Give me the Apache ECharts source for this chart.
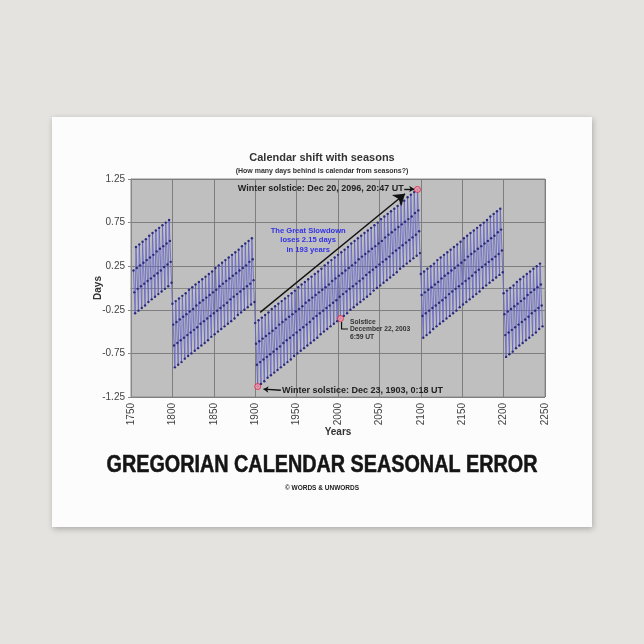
<!DOCTYPE html>
<html><head><meta charset="utf-8">
<script src="https://cdn.jsdelivr.net/npm/echarts@6/dist/echarts.min.js"></script>
<style>html,body{margin:0;padding:0;background:#e5e3e0;}#c{width:644px;height:644px;}</style>
</head><body><div id="c"></div>
<script>
// Days behind (calendar vs seasons), one value per year, segments start at given years
const seg1753 = [
0.20,-0.05,-0.29,
0.47,0.23,-0.01,-0.26,
0.50,0.26,0.02,-0.23,
0.53,0.29,0.05,-0.20,
0.56,0.32,0.08,-0.16,
0.60,0.35,0.11,-0.13,
0.63,0.38,0.14,-0.10,
0.66,0.42,0.17,-0.07,
0.69,0.45,0.20,-0.04,
0.72,0.48,0.24,-0.01,
0.75,0.51,0.27,0.02,
0.78,0.54,0.30,0.06];
const seg1800 = [
-0.18,-0.42,-0.66,-0.91,
-0.15,-0.39,-0.63,-0.88,
-0.12,-0.36,-0.60,-0.85,
-0.09,-0.33,-0.57,-0.81,
-0.06,-0.30,-0.54,-0.78,
-0.02,-0.27,-0.51,-0.75,
0.01,-0.24,-0.48,-0.72,
0.04,-0.20,-0.45,-0.69,
0.07,-0.17,-0.41,-0.66,
0.10,-0.14,-0.38,-0.63,
0.13,-0.11,-0.35,-0.60,
0.16,-0.08,-0.32,-0.56,
0.19,-0.05,-0.29,-0.53,
0.23,-0.02,-0.26,-0.50,
0.26,0.02,-0.23,-0.47,
0.29,0.05,-0.20,-0.44,
0.32,0.08,-0.17,-0.41,
0.35,0.11,-0.13,-0.38,
0.38,0.14,-0.10,-0.35,
0.41,0.17,-0.07,-0.31,
0.44,0.20,-0.04,-0.28,
0.48,0.23,-0.01,-0.25,
0.51,0.26,0.02,-0.22,
0.54,0.30,0.05,-0.19,
0.57,0.33,0.09,-0.16];
const seg1900 = [
-0.40,-0.64,-0.88,-1.13,
-0.37,-0.61,-0.85,-1.10,
-0.34,-0.58,-0.82,-1.07,
-0.31,-0.55,-0.79,-1.03,
-0.28,-0.52,-0.76,-1.00,
-0.24,-0.49,-0.73,-0.97,
-0.21,-0.46,-0.70,-0.94,
-0.18,-0.42,-0.67,-0.91,
-0.15,-0.39,-0.63,-0.88,
-0.12,-0.36,-0.60,-0.85,
-0.09,-0.33,-0.57,-0.82,
-0.06,-0.30,-0.54,-0.78,
-0.03,-0.27,-0.51,-0.75,
0.01,-0.24,-0.48,-0.72,
0.04,-0.21,-0.45,-0.69,
0.07,-0.17,-0.42,-0.66,
0.10,-0.14,-0.39,-0.63,
0.13,-0.11,-0.35,-0.60,
0.16,-0.08,-0.32,-0.57,
0.19,-0.05,-0.29,-0.53,
0.22,-0.02,-0.26,-0.50,
0.26,0.01,-0.23,-0.47,
0.29,0.04,-0.20,-0.44,
0.32,0.08,-0.17,-0.41,
0.35,0.11,-0.14,-0.38,
0.38,0.14,-0.10,-0.35,
0.41,0.17,-0.07,-0.32,
0.44,0.20,-0.04,-0.29,
0.47,0.23,-0.01,-0.25,
0.51,0.26,0.02,-0.22,
0.54,0.29,0.05,-0.19,
0.57,0.33,0.08,-0.16,
0.60,0.36,0.11,-0.13,
0.63,0.39,0.15,-0.10,
0.66,0.42,0.18,-0.07,
0.69,0.45,0.21,-0.03,
0.72,0.48,0.24,0.00,
0.75,0.51,0.27,0.03,
0.79,0.54,0.30,0.06,
0.82,0.58,0.33,0.09,
0.85,0.61,0.36,0.12,
0.88,0.64,0.40,0.15,
0.91,0.67,0.43,0.18,
0.94,0.70,0.46,0.22,
0.97,0.73,0.49,0.25,
1.00,0.76,0.52,0.28,
1.04,0.79,0.55,0.31,
1.07,0.82,0.58,0.34,
1.10,0.86,0.61,0.37,
1.13,0.89,0.65,0.40];
const seg2100 = [
0.16,-0.08,-0.32,-0.57,
0.19,-0.05,-0.29,-0.54,
0.22,-0.02,-0.26,-0.51,
0.25,0.01,-0.23,-0.47,
0.28,0.04,-0.20,-0.44,
0.32,0.07,-0.17,-0.41,
0.35,0.11,-0.14,-0.38,
0.38,0.14,-0.11,-0.35,
0.41,0.17,-0.07,-0.32,
0.44,0.20,-0.04,-0.29,
0.47,0.23,-0.01,-0.26,
0.50,0.26,0.02,-0.22,
0.53,0.29,0.05,-0.19,
0.57,0.32,0.08,-0.16,
0.60,0.36,0.11,-0.13,
0.63,0.39,0.14,-0.10,
0.66,0.42,0.18,-0.07,
0.69,0.45,0.21,-0.04,
0.72,0.48,0.24,0.00,
0.75,0.51,0.27,0.03,
0.78,0.54,0.30,0.06,
0.82,0.57,0.33,0.09,
0.85,0.60,0.36,0.12,
0.88,0.64,0.39,0.15,
0.91,0.67,0.43,0.18];
const seg2200 = [
-0.06,-0.30,-0.54,-0.79,
-0.03,-0.27,-0.51,-0.76,
0.00,-0.24,-0.48,-0.73,
0.03,-0.21,-0.45,-0.69,
0.07,-0.18,-0.42,-0.66,
0.10,-0.15,-0.39,-0.63,
0.13,-0.12,-0.36,-0.60,
0.16,-0.08,-0.33,-0.57,
0.19,-0.05,-0.29,-0.54,
0.22,-0.02,-0.26,-0.51,
0.25,0.01,-0.23,-0.47,
0.28,0.04,-0.20,-0.44];
const segmentStarts = [1753, 1800, 1900, 2100, 2200];
const segments = [seg1753, seg1800, seg1900, seg2100, seg2200];

// highlighted solstices
const markerYears = [1903, 2003, 2096];
const markerValues = [-1.13, -0.35, 1.13];

const xTicks = {min: 1750, max: 2250, step: 50};
const yTicks = {min: -1.25, max: 1.25, step: 0.5};

const lineData = [];
segments.forEach((arr, s) => arr.forEach((v, i) => lineData.push([segmentStarts[s] + i, v])));
const markerData = markerYears.map((y, i) => [y, markerValues[i]]);

const FF = '"Liberation Sans", Arial, sans-serif';
const chart = echarts.init(document.getElementById('c'), null, {renderer: 'canvas', width: 644, height: 644});

const option = {
  animation: false,
  backgroundColor: '#e5e3e0',
  title: [
    {text: 'Calendar shift with seasons', left: 'center', top: 147,
     textStyle: {fontFamily: FF, fontSize: 11, fontWeight: 'bold', color: '#333'}},
    {text: '(How many days behind is calendar from seasons?)', left: 'center', top: 163,
     textStyle: {fontFamily: FF, fontSize: 7, fontWeight: 'bold', color: '#333'}}
  ],
  grid: {left: 131, right: 99, top: 179, bottom: 247, show: true,
         backgroundColor: '#bfbfbf', borderColor: '#8c8c8c', borderWidth: 1},
  xAxis: {
    type: 'value', min: xTicks.min, max: xTicks.max, interval: xTicks.step,
    name: 'Years', nameLocation: 'middle', nameGap: 30, nameMoveOverlap: false,
    nameTextStyle: {fontFamily: FF, fontWeight: 'bold', fontSize: 10, color: '#333'},
    axisLine: {show: true, lineStyle: {color: '#888'}},
    axisTick: {show: true, length: 3, lineStyle: {color: '#888'}},
    axisLabel: {rotate: 90, fontFamily: FF, fontSize: 10, color: '#444', margin: 6, formatter: v => String(v)},
    splitLine: {show: true, lineStyle: {color: '#7e7e7e', width: 1}}
  },
  yAxis: {
    type: 'value', min: yTicks.min, max: yTicks.max, interval: yTicks.step,
    name: 'Days', nameLocation: 'middle', nameGap: 28, nameMoveOverlap: false,
    nameTextStyle: {fontFamily: FF, fontWeight: 'bold', fontSize: 10, color: '#333'},
    axisLine: {show: true, lineStyle: {color: '#888'}},
    axisTick: {show: true, length: 3, lineStyle: {color: '#888'}},
    axisLabel: {fontFamily: FF, fontSize: 10, color: '#444', margin: 6, formatter: v => v.toFixed(2)},
    splitLine: {show: true, lineStyle: {color: '#7e7e7e', width: 1}}
  },
  series: [
    {type: 'line', data: lineData, symbol: 'circle', symbolSize: 2.4, showSymbol: true,
     itemStyle: {color: '#2a2a80'}, lineStyle: {color: '#6262c8', width: 0.8, opacity: 1},
     silent: true, z: 2},
    {type: 'scatter', data: markerData, symbol: 'circle', symbolSize: 6,
     itemStyle: {color: '#f29cae', borderColor: '#d8203e', borderWidth: 1}, z: 5, silent: true,
     markLine: {silent: true, animation: false, label: {show: false},
       data: [
         [{coord: [1906, -0.28], symbol: 'none'}, {coord: [2081, 1.08], symbol: 'arrow', symbolSize: 11}],
         [{coord: [2080, 1.135], symbol: 'none'}, {coord: [2092, 1.135], symbol: 'arrow', symbolSize: 5}],
         [{coord: [1931, -1.172], symbol: 'none'}, {coord: [1910, -1.16], symbol: 'arrow', symbolSize: 5}]
       ],
       lineStyle: {color: '#111', width: 1.4, type: 'solid'}}
    }
  ]
};
chart.setOption(option);

function px(x, y) { return chart.convertToPixel({gridIndex: 0}, [x, y]); }

// measure main title width to fit the reference span
const cv = document.createElement('canvas').getContext('2d');
const mainText = 'GREGORIAN CALENDAR SEASONAL ERROR';
cv.font = 'bold 23px "Liberation Sans"';
const mainScale = 431 / cv.measureText(mainText).width;

const p2096 = px(2079.5, 1.136);
const p1903 = px(1932.5, -1.173);
const pBlue = px(1964, 0.547);
const pSol = px(2014.5, -0.476);
const e1 = px(2004.3, -0.39), e2 = px(2004.3, -0.47), e3 = px(2012, -0.47);

chart.setOption({
  graphic: [
    {type: 'rect', z: -1, shape: {x: 52, y: 117, width: 540, height: 410},
     style: {fill: '#fcfcfc', shadowBlur: 6, shadowColor: 'rgba(0,0,0,0.25)', shadowOffsetX: 1, shadowOffsetY: 2}},
    {type: 'text', z: 10, x: p2096[0], y: p2096[1],
     style: {text: 'Winter solstice: Dec 20, 2096, 20:47 UT', font: 'bold 9px ' + FF, fill: '#222', textAlign: 'right', textVerticalAlign: 'middle'}},
    {type: 'text', z: 10, x: p1903[0], y: p1903[1],
     style: {text: 'Winter solstice: Dec 23, 1903, 0:18 UT', font: 'bold 9px ' + FF, fill: '#222', textAlign: 'left', textVerticalAlign: 'middle'}},
    {type: 'text', z: 10, x: pBlue[0], y: pBlue[1],
     style: {text: 'The Great Slowdown\nloses 2.15 days\nin 193 years', font: 'bold 7.6px ' + FF, lineHeight: 9.6, fill: '#3232e6', textAlign: 'center', textVerticalAlign: 'middle'}},
    {type: 'text', z: 10, x: pSol[0], y: pSol[1],
     style: {text: 'Solstice\nDecember 22, 2003\n6:59 UT', font: 'bold 6.7px ' + FF, lineHeight: 7.6, fill: '#333', textAlign: 'left', textVerticalAlign: 'middle'}},
    {type: 'polyline', z: 10, shape: {points: [e1, e2, e3]}, style: {stroke: '#111', lineWidth: 1.2, fill: null}},
    {type: 'text', z: 10, x: 322, y: 466, scaleX: mainScale,
     style: {text: mainText, font: 'bold 23px "Liberation Sans"', fill: '#151515', stroke: '#151515', lineWidth: 0.5, textAlign: 'center', textVerticalAlign: 'middle'}},
    {type: 'text', z: 10, x: 322, y: 488,
     style: {text: '© WORDS & UNWORDS', font: 'bold 6.5px ' + FF, fill: '#222', textAlign: 'center', textVerticalAlign: 'middle'}}
  ]
});
</script>
</body></html>
